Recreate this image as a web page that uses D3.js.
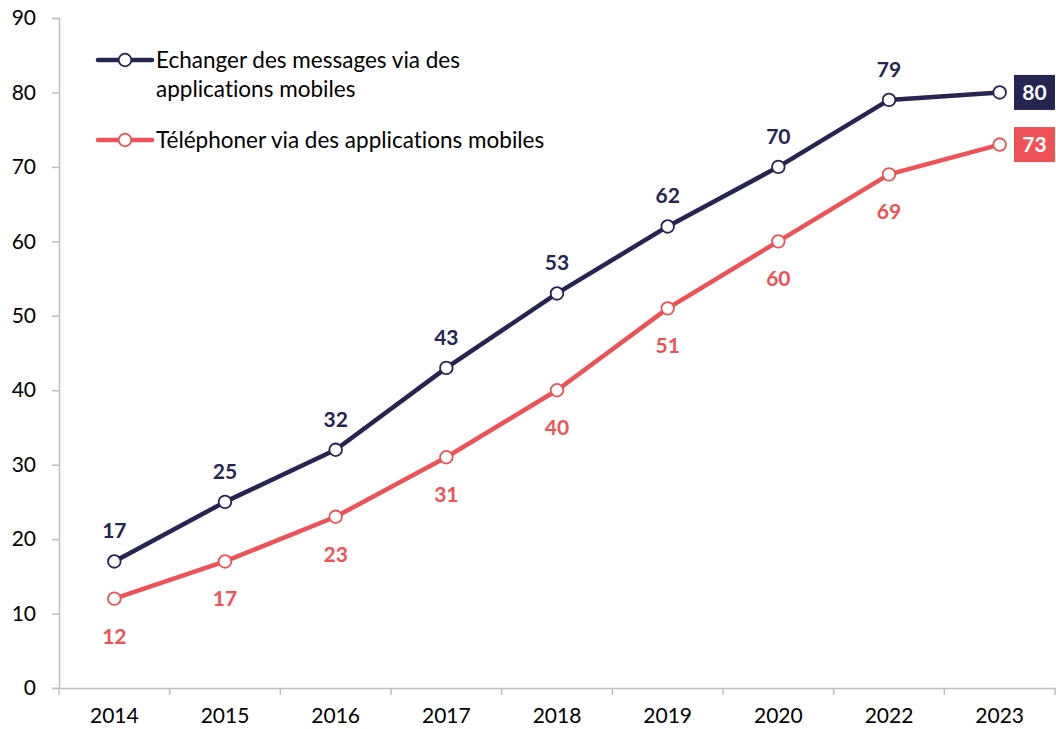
<!DOCTYPE html>
<html><head><meta charset="utf-8">
<script src="https://cdn.jsdelivr.net/npm/d3@7"></script>
<style>body{margin:0;background:#fff;} svg{display:block;font-family:Lato,"Open Sans",sans-serif;font-variant-ligatures:none;font-feature-settings:"liga" 0;}</style>
</head><body>
<svg id="c" width="1056" height="729"></svg>
<script>
const years = ["2014","2015","2016","2017","2018","2019","2020","2022","2023"];
const messages = [17,25,32,43,53,62,70,79,80];
const calls = [12,17,23,31,40,51,60,69,73];
const yTicks = [0,10,20,30,40,50,60,70,80,90];
const seriesNames = ["Echanger des messages via des applications mobiles","Téléphoner via des applications mobiles"];
const colors = ["#262451","#EE5257"];

const svg = d3.select("#c");
const x = d3.scaleBand().domain(years).range([59,1055]);
const y = d3.scaleLinear().domain([0,90]).range([688,18]);

// y axis
const ya = svg.append("g").attr("transform","translate(59,0)")
  .call(d3.axisLeft(y).tickValues(yTicks).tickSize(7).tickPadding(16));
ya.select(".domain").attr("stroke","#bfbfbf").attr("stroke-width",1.5);
ya.selectAll(".tick line").attr("stroke","#bfbfbf").attr("stroke-width",1.5);
ya.selectAll("text").attr("font-size",21).attr("fill","#000").style("font-family","Lato,sans-serif");

// x axis
const xa = svg.append("g").attr("transform","translate(0,688)")
  .call(d3.axisBottom(x).tickSize(0).tickPadding(20));
xa.select(".domain").attr("stroke","#bfbfbf").attr("stroke-width",1.5);
xa.selectAll("text").attr("font-size",21).attr("fill","#000").style("font-family","Lato,sans-serif");
const bounds = years.map(d=>x(d)).concat([x.range()[1]]);
svg.append("g").selectAll("line").data(bounds).join("line")
  .attr("x1",d=>d).attr("x2",d=>d).attr("y1",688).attr("y2",695)
  .attr("stroke","#bfbfbf").attr("stroke-width",1.5);

const cx = d => x(d)+x.bandwidth()/2;
const series = [messages, calls];
const line = d3.line().x((d,i)=>cx(years[i])).y(d=>y(d));

series.forEach((vals,s)=>{
  svg.append("path").datum(vals).attr("d",line).attr("fill","none")
    .attr("stroke",colors[s]).attr("stroke-width",4.5).attr("stroke-linejoin","round");
  svg.append("g").selectAll("circle").data(vals).join("circle")
    .attr("cx",(d,i)=>cx(years[i])).attr("cy",d=>y(d)).attr("r",6.3)
    .attr("fill","#fff").attr("stroke",colors[s]).attr("stroke-width",1.8);
  svg.append("g").selectAll("text").data(vals.slice(0,-1)).join("text")
    .attr("x",(d,i)=>cx(years[i])).attr("y",d=>y(d)+(s===0?-23:45))
    .attr("text-anchor","middle").attr("font-size",21).attr("font-weight","bold")
    .attr("fill",colors[s]).text(d=>d);
  const last = vals[vals.length-1];
  const by = y(last);
  svg.append("rect").attr("x",1014).attr("y",by-17.5).attr("width",41).attr("height",35).attr("fill",colors[s]);
  svg.append("text").attr("x",1034.5).attr("y",by+7.5).attr("text-anchor","middle")
    .attr("font-size",21).attr("font-weight","bold").attr("fill","#fff").text(last);
});

// legend
const legend = [{y:60, lines:["Echanger des messages via des","applications mobiles"]},
                {y:140, lines:[seriesNames[1]]}];
legend.forEach((l,s)=>{
  const g = svg.append("g");
  g.append("line").attr("x1",98).attr("x2",152).attr("y1",l.y).attr("y2",l.y)
    .attr("stroke",colors[s]).attr("stroke-width",4.5).attr("stroke-linecap","round");
  g.append("circle").attr("cx",125).attr("cy",l.y).attr("r",6.3).attr("fill","#fff")
    .attr("stroke",colors[s]).attr("stroke-width",1.8);
  l.lines.forEach((t,i)=>{
    g.append("text").attr("x",156).attr("y",l.y+8+i*29).attr("font-size",22.5).attr("fill","#000").text(t);
  });
});
</script>
</body></html>
